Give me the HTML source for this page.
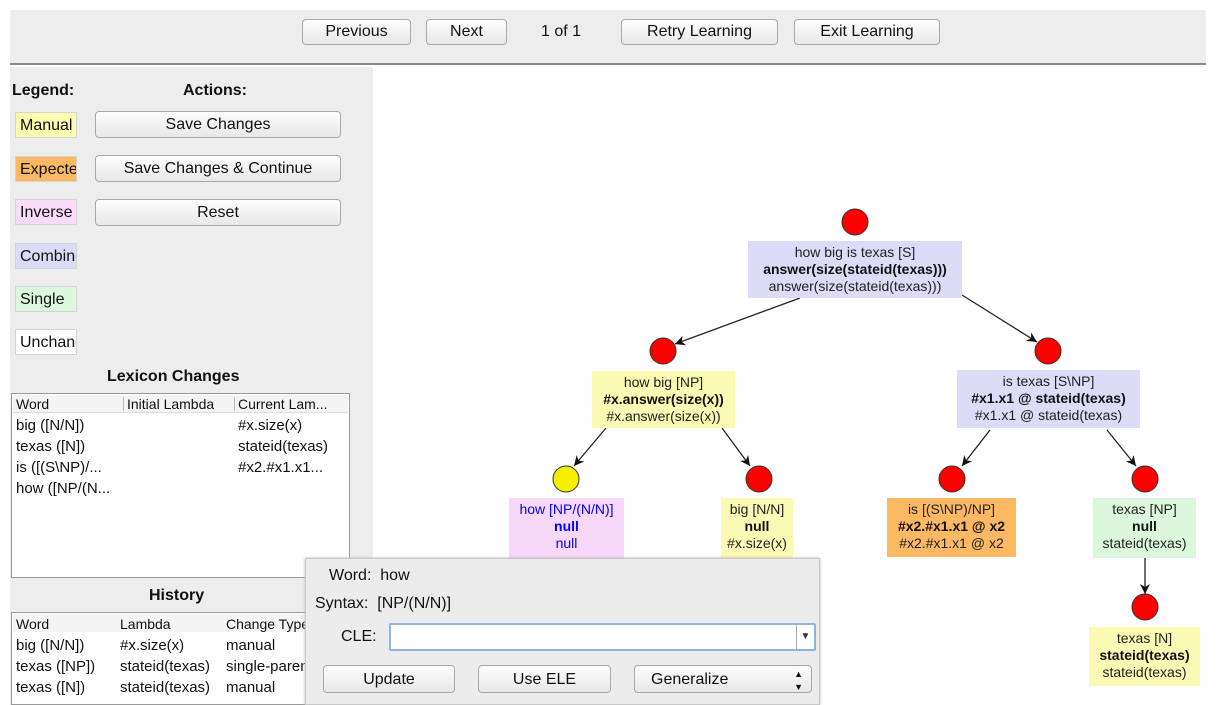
<!DOCTYPE html>
<html><head><style>
*{box-sizing:border-box;margin:0;padding:0}
body{width:1218px;height:705px;position:relative;background:#fff;font-family:"Liberation Sans",sans-serif;overflow:hidden;color:#111}
.a{position:absolute}
.btn{position:absolute;background:linear-gradient(#fdfdfd,#e8e8e8);border:1px solid #a8a8a8;border-radius:4px;font-size:16px;text-align:center;color:#111}
.leg{position:absolute;left:15px;width:62px;height:26px;border:1px solid #d4d4d4;font-size:16px;padding:4px 0 0 4px;overflow:hidden;white-space:nowrap}
.t{font-size:14px;white-space:nowrap}
.nb{position:absolute;text-align:center;font-size:14px;line-height:17px;padding-top:3px;color:#222}
.nb b{color:#111}
</style></head><body>
<div class="a" style="left:10px;top:10px;width:1196px;height:55px;background:#ededed;border-bottom:2px solid #8a8a8a"></div>
<div class="btn" style="left:302px;top:19px;width:109px;height:26px;line-height:24px">Previous</div>
<div class="btn" style="left:426px;top:19px;width:81px;height:26px;line-height:24px">Next</div>
<div class="a" style="left:541px;top:23px;font-size:16px">1 of 1</div>
<div class="btn" style="left:621px;top:19px;width:157px;height:26px;line-height:24px">Retry Learning</div>
<div class="btn" style="left:794px;top:19px;width:146px;height:26px;line-height:24px">Exit Learning</div>

<div class="a" style="left:10px;top:67px;width:363px;height:638px;background:#ededed"></div>
<div class="a" style="left:12px;top:82px;font-size:16px;font-weight:bold">Legend:</div>
<div class="a" style="left:183px;top:82px;font-size:16px;font-weight:bold">Actions:</div>
<div class="leg" style="top:112px;background:#fdfdb0">Manual</div>
<div class="leg" style="top:156px;background:#fdb863">Expected</div>
<div class="leg" style="top:199px;background:#fadcf8">Inverse</div>
<div class="leg" style="top:243px;background:#dcdcf8">Combine</div>
<div class="leg" style="top:286px;background:#dcf8dc">Single</div>
<div class="leg" style="top:329px;background:#fff">Unchanged</div>
<div class="btn" style="left:95px;top:111px;width:246px;height:27px;line-height:26px">Save Changes</div>
<div class="btn" style="left:95px;top:155px;width:246px;height:27px;line-height:26px">Save Changes &amp; Continue</div>
<div class="btn" style="left:95px;top:199px;width:246px;height:27px;line-height:26px">Reset</div>
<div class="a" style="left:107px;top:368px;font-size:16px;font-weight:bold">Lexicon Changes</div>
<div class="a" style="left:11px;top:393px;width:339px;height:185px;background:#fff;border:1px solid #999"></div>
<div class="a" style="left:13px;top:395px;width:335px;height:18px;background:#f4f4f4;border-bottom:1px solid #ddd"></div>
<div class="a t" style="left:16px;top:396px">Word</div>
<div class="a" style="left:123px;top:397px;width:1px;height:14px;background:#bbb"></div>
<div class="a t" style="left:127px;top:396px">Initial Lambda</div>
<div class="a" style="left:234px;top:397px;width:1px;height:14px;background:#bbb"></div>
<div class="a t" style="left:238px;top:396px">Current Lam...</div>
<div class="a t" style="left:16px;top:417px;font-size:15px">big ([N/N])</div><div class="a t" style="left:238px;top:417px;font-size:15px">#x.size(x)</div>
<div class="a t" style="left:16px;top:438px;font-size:15px">texas ([N])</div><div class="a t" style="left:238px;top:438px;font-size:15px">stateid(texas)</div>
<div class="a t" style="left:16px;top:459px;font-size:15px">is ([(S\NP)/...</div><div class="a t" style="left:238px;top:459px;font-size:15px">#x2.#x1.x1...</div>
<div class="a t" style="left:16px;top:480px;font-size:15px">how ([NP/(N...</div>
<div class="a" style="left:149px;top:587px;font-size:16px;font-weight:bold">History</div>
<div class="a" style="left:11px;top:612px;width:300px;height:93px;background:#fff;border:1px solid #999"></div>
<div class="a" style="left:13px;top:614px;width:296px;height:18px;background:#f4f4f4"></div>
<div class="a t" style="left:16px;top:616px">Word</div>
<div class="a t" style="left:120px;top:616px">Lambda</div>
<div class="a t" style="left:226px;top:616px">Change Type</div>
<div class="a t" style="left:16px;top:637px;font-size:15px">big ([N/N])</div><div class="a t" style="left:120px;top:637px;font-size:15px">#x.size(x)</div><div class="a t" style="left:226px;top:637px;font-size:15px">manual</div>
<div class="a t" style="left:16px;top:658px;font-size:15px">texas ([NP])</div><div class="a t" style="left:120px;top:658px;font-size:15px">stateid(texas)</div><div class="a t" style="left:226px;top:658px;font-size:15px">single-parent</div>
<div class="a t" style="left:16px;top:679px;font-size:15px">texas ([N])</div><div class="a t" style="left:120px;top:679px;font-size:15px">stateid(texas)</div><div class="a t" style="left:226px;top:679px;font-size:15px">manual</div>

<svg class="a" style="left:0;top:0" width="1218" height="705">
<defs><marker id="ar" markerWidth="12" markerHeight="12" refX="10" refY="5" orient="auto" markerUnits="userSpaceOnUse"><path d="M0,0 L10,5 L0,10 L3,5 z" fill="#111"/></marker></defs>
<g stroke="#222" stroke-width="1.3" fill="none" marker-end="url(#ar)">
<line x1="800" y1="298" x2="675" y2="344"/>
<line x1="962" y1="295" x2="1037" y2="342"/>
<line x1="606" y1="428" x2="574" y2="466"/>
<line x1="722" y1="428" x2="750" y2="466"/>
<line x1="990" y1="430" x2="962" y2="466"/>
<line x1="1107" y1="430" x2="1136" y2="466"/>
<line x1="1145" y1="558" x2="1145" y2="594"/>
</g>
<g stroke="#333" stroke-width="1">
<circle cx="855" cy="222" r="13" fill="#f00"/>
<circle cx="663" cy="351" r="13" fill="#f00"/>
<circle cx="1048" cy="351" r="13" fill="#f00"/>
<circle cx="566" cy="479" r="13" fill="#f5f000"/>
<circle cx="759" cy="479" r="13" fill="#f00"/>
<circle cx="952" cy="479" r="13" fill="#f00"/>
<circle cx="1145" cy="479" r="13" fill="#f00"/>
<circle cx="1145" cy="607" r="13" fill="#f00"/>
</g>
</svg>
<div class="nb" style="left:748px;top:241px;width:214px;height:57px;background:#dcdcf8">how big is texas [S]<br><b>answer(size(stateid(texas)))</b><br>answer(size(stateid(texas)))</div>
<div class="nb" style="left:592px;top:371px;width:143px;height:57px;background:#fafab4">how big [NP]<br><b>#x.answer(size(x))</b><br>#x.answer(size(x))</div>
<div class="nb" style="left:957px;top:370px;width:183px;height:58px;background:#dcdcf8">is texas [S\NP]<br><b>#x1.x1 @ stateid(texas)</b><br>#x1.x1 @ stateid(texas)</div>
<div class="nb" style="left:509px;top:498px;width:115px;height:60px;background:#f8d8f8;color:#00f">how [NP/(N/N)]<br><b style="color:#00f">null</b><br>null</div>
<div class="nb" style="left:721px;top:498px;width:72px;height:60px;background:#fafab4">big [N/N]<br><b>null</b><br>#x.size(x)</div>
<div class="nb" style="left:887px;top:498px;width:129px;height:59px;background:#fdb863">is [(S\NP)/NP]<br><b>#x2.#x1.x1 @ x2</b><br>#x2.#x1.x1 @ x2</div>
<div class="nb" style="left:1093px;top:498px;width:103px;height:60px;background:#dcf8dc">texas [NP]<br><b>null</b><br>stateid(texas)</div>
<div class="nb" style="left:1089px;top:627px;width:111px;height:59px;background:#fafab4">texas [N]<br><b>stateid(texas)</b><br>stateid(texas)</div>

<div class="a" style="left:305px;top:558px;width:515px;height:147px;background:#ececec;border:1px solid #c8c8c8;box-shadow:0 0 3px #bbb"></div>
<div class="a" style="left:329px;top:567px;font-size:16px">Word:&nbsp; how</div>
<div class="a" style="left:315px;top:595px;font-size:16px">Syntax:&nbsp; [NP/(N/N)]</div>
<div class="a" style="left:341px;top:628px;font-size:16px">CLE:</div>
<div class="a" style="left:389px;top:623px;width:427px;height:28px;background:#fff;border:2px solid #8fb4dc;border-radius:2px"></div>
<div class="a" style="left:796px;top:625px;width:18px;height:24px;border-left:1px solid #aaa;font-size:10px;text-align:center;line-height:24px;color:#333">▼</div>
<div class="btn" style="left:323px;top:665px;width:132px;height:28px;line-height:27px">Update</div>
<div class="btn" style="left:478px;top:665px;width:133px;height:28px;line-height:27px">Use ELE</div>
<div class="btn" style="left:634px;top:665px;width:178px;height:28px;line-height:27px;text-align:left;padding-left:16px">Generalize<span style="position:absolute;right:8px;top:0;font-size:9px;line-height:13px;padding-top:2px">▲<br>▼</span></div>
</body></html>
